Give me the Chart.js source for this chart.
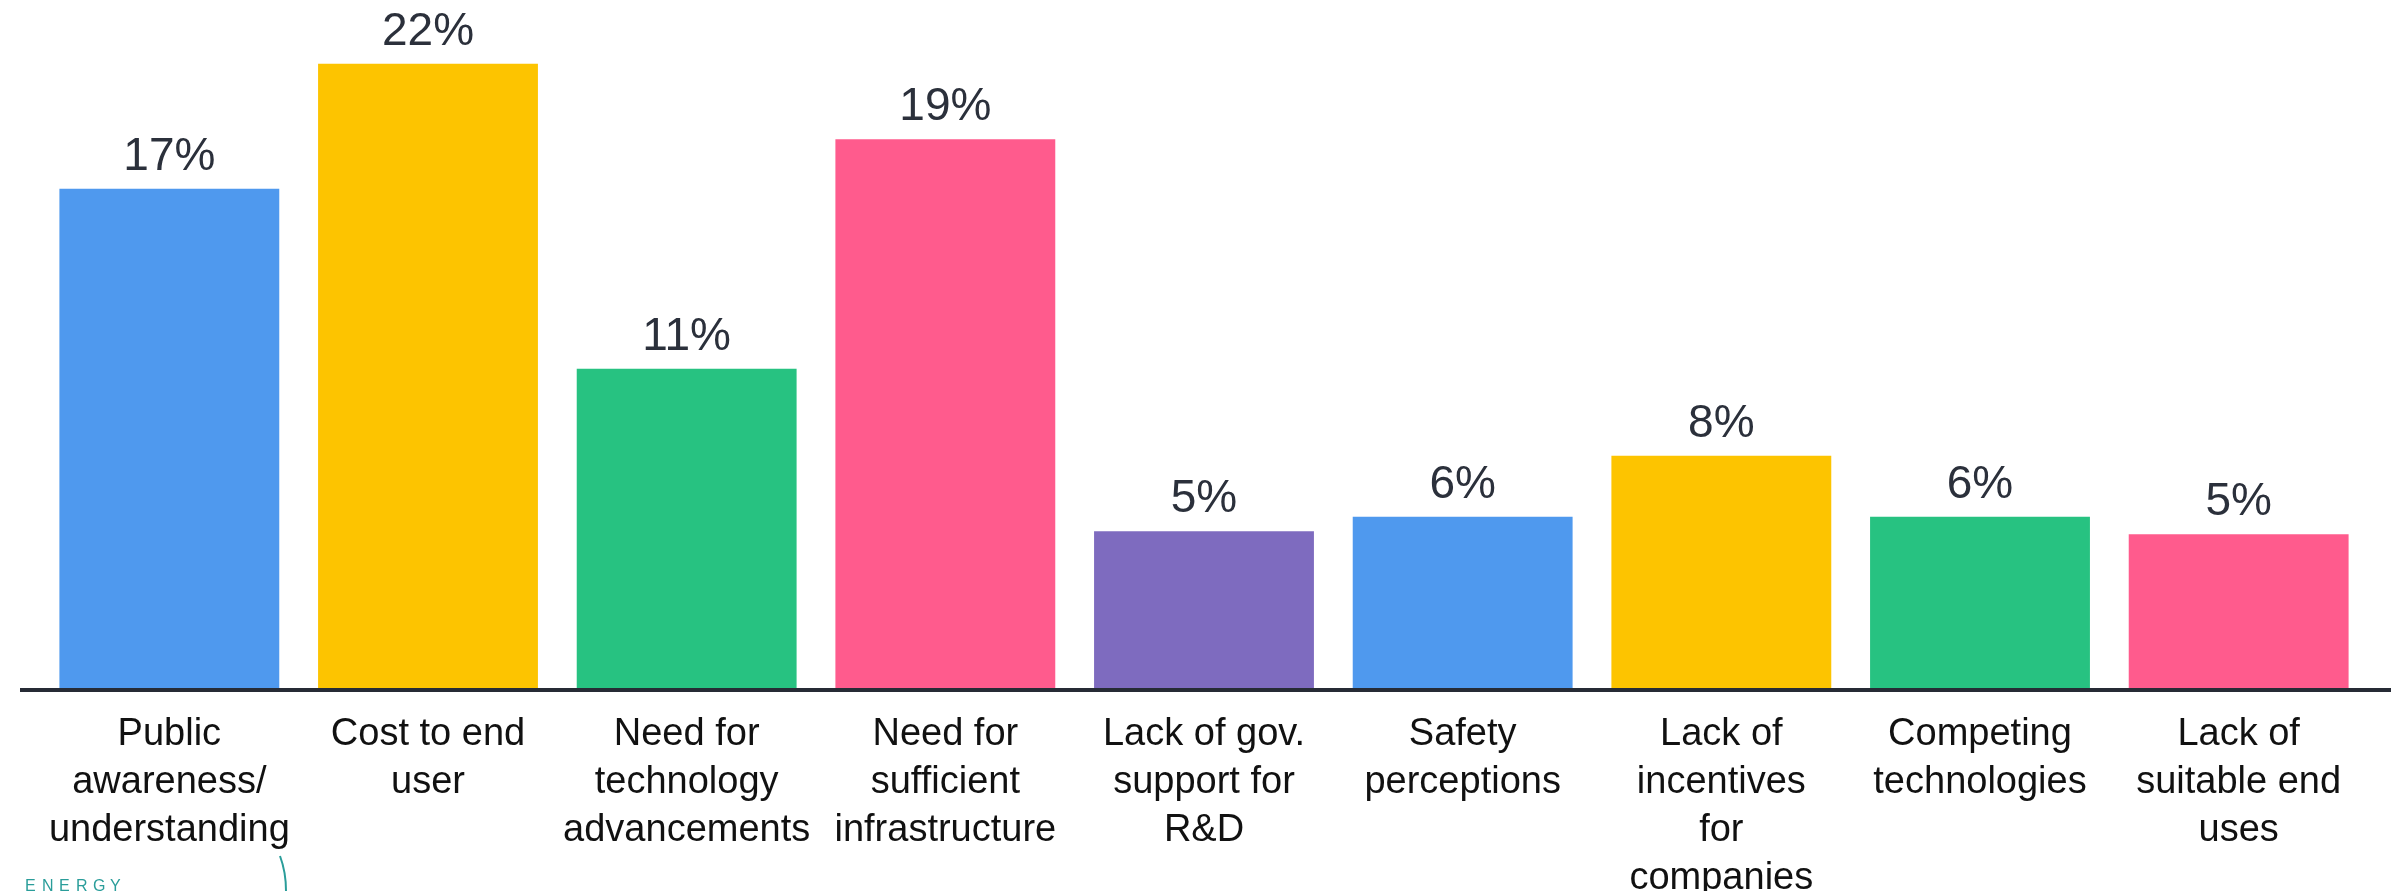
<!DOCTYPE html>
<html>
<head>
<meta charset="utf-8">
<script src="https://cdn.jsdelivr.net/npm/chart.js@4.4.1/dist/chart.umd.min.js"></script>
<style>
  html, body { margin: 0; padding: 0; background: #ffffff; }
  #wrap { width: 2396px; height: 891px; position: relative; }
</style>
</head>
<body>
<div id="wrap"><canvas id="c" width="2396" height="891"></canvas></div>
<script>
// ---- Data ----
const categories = [
  ["Public", "awareness/", "understanding"],
  ["Cost to end", "user"],
  ["Need for", "technology", "advancements"],
  ["Need for", "sufficient", "infrastructure"],
  ["Lack of gov.", "support for", "R&D"],
  ["Safety", "perceptions"],
  ["Lack of", "incentives", "for", "companies"],
  ["Competing", "technologies"],
  ["Lack of", "suitable end", "uses"]
];
const shares = [17.2, 21.5, 11.0, 18.9, 5.4, 5.9, 8.0, 5.9, 5.3];
const barColors = ["#4f99ee", "#fdc400", "#27c281", "#ff5b8d", "#7e6bbf", "#4f99ee", "#fdc400", "#27c281", "#ff5b8d"];
const yMax = 23.7;

const FONT = '"Liberation Sans", Arial, Helvetica, sans-serif';

const decorPlugin = {
  id: 'decor',
  afterDatasetsDraw(chart) {
    const ctx = chart.ctx;
    const area = chart.chartArea;
    const meta = chart.getDatasetMeta(0);
    ctx.save();
    // value labels
    ctx.font = '46px ' + FONT;
    ctx.fillStyle = '#2b303b';
    ctx.textAlign = 'center';
    ctx.textBaseline = 'alphabetic';
    meta.data.forEach((bar, i) => {
      ctx.fillText(Math.round(shares[i]) + '%', bar.x, bar.y - 19);
    });
    // axis line
    ctx.strokeStyle = '#262b35';
    ctx.lineWidth = 4;
    ctx.beginPath();
    ctx.moveTo(area.left - 20, area.bottom + 2);
    ctx.lineTo(area.right + 23, area.bottom + 2);
    ctx.stroke();
    // logo fragment (bottom-left)
    ctx.font = '16px "Liberation Sans", Arial, sans-serif';
    ctx.fillStyle = '#2a9d9a';
    ctx.textAlign = 'left';
    let x = 25;
    for (const ch of 'ENERGY') { ctx.fillText(ch, x, 891); x += 17; }
    ctx.strokeStyle = '#2a9d9a';
    ctx.lineWidth = 2;
    ctx.beginPath();
    ctx.moveTo(280, 856);
    ctx.quadraticCurveTo(286, 872, 286, 891);
    ctx.stroke();
    ctx.restore();
  }
};

new Chart(document.getElementById('c'), {
  type: 'bar',
  data: {
    labels: categories,
    datasets: [{
      data: shares,
      backgroundColor: barColors,
      borderWidth: 0,
      barPercentage: 0.85,
      categoryPercentage: 1.0
    }]
  },
  options: {
    responsive: false,
    animation: false,
    devicePixelRatio: 1,
    layout: { padding: { left: 40, right: 28, top: 0, bottom: 0 } },
    plugins: { legend: { display: false }, tooltip: { enabled: false }, title: { display: false } },
    scales: {
      x: {
        offset: true,
        grid: { display: false },
        border: { display: false },
        ticks: {
          autoSkip: false,
          maxRotation: 0,
          minRotation: 0,
          padding: 15,
          color: '#111111',
          font: { family: FONT, size: 38, lineHeight: 1.26 }
        },
        afterFit(scale) { scale.height = 203; }
      },
      y: {
        display: false,
        min: 0,
        max: yMax
      }
    }
  },
  plugins: [decorPlugin]
});
</script>
</body>
</html>
